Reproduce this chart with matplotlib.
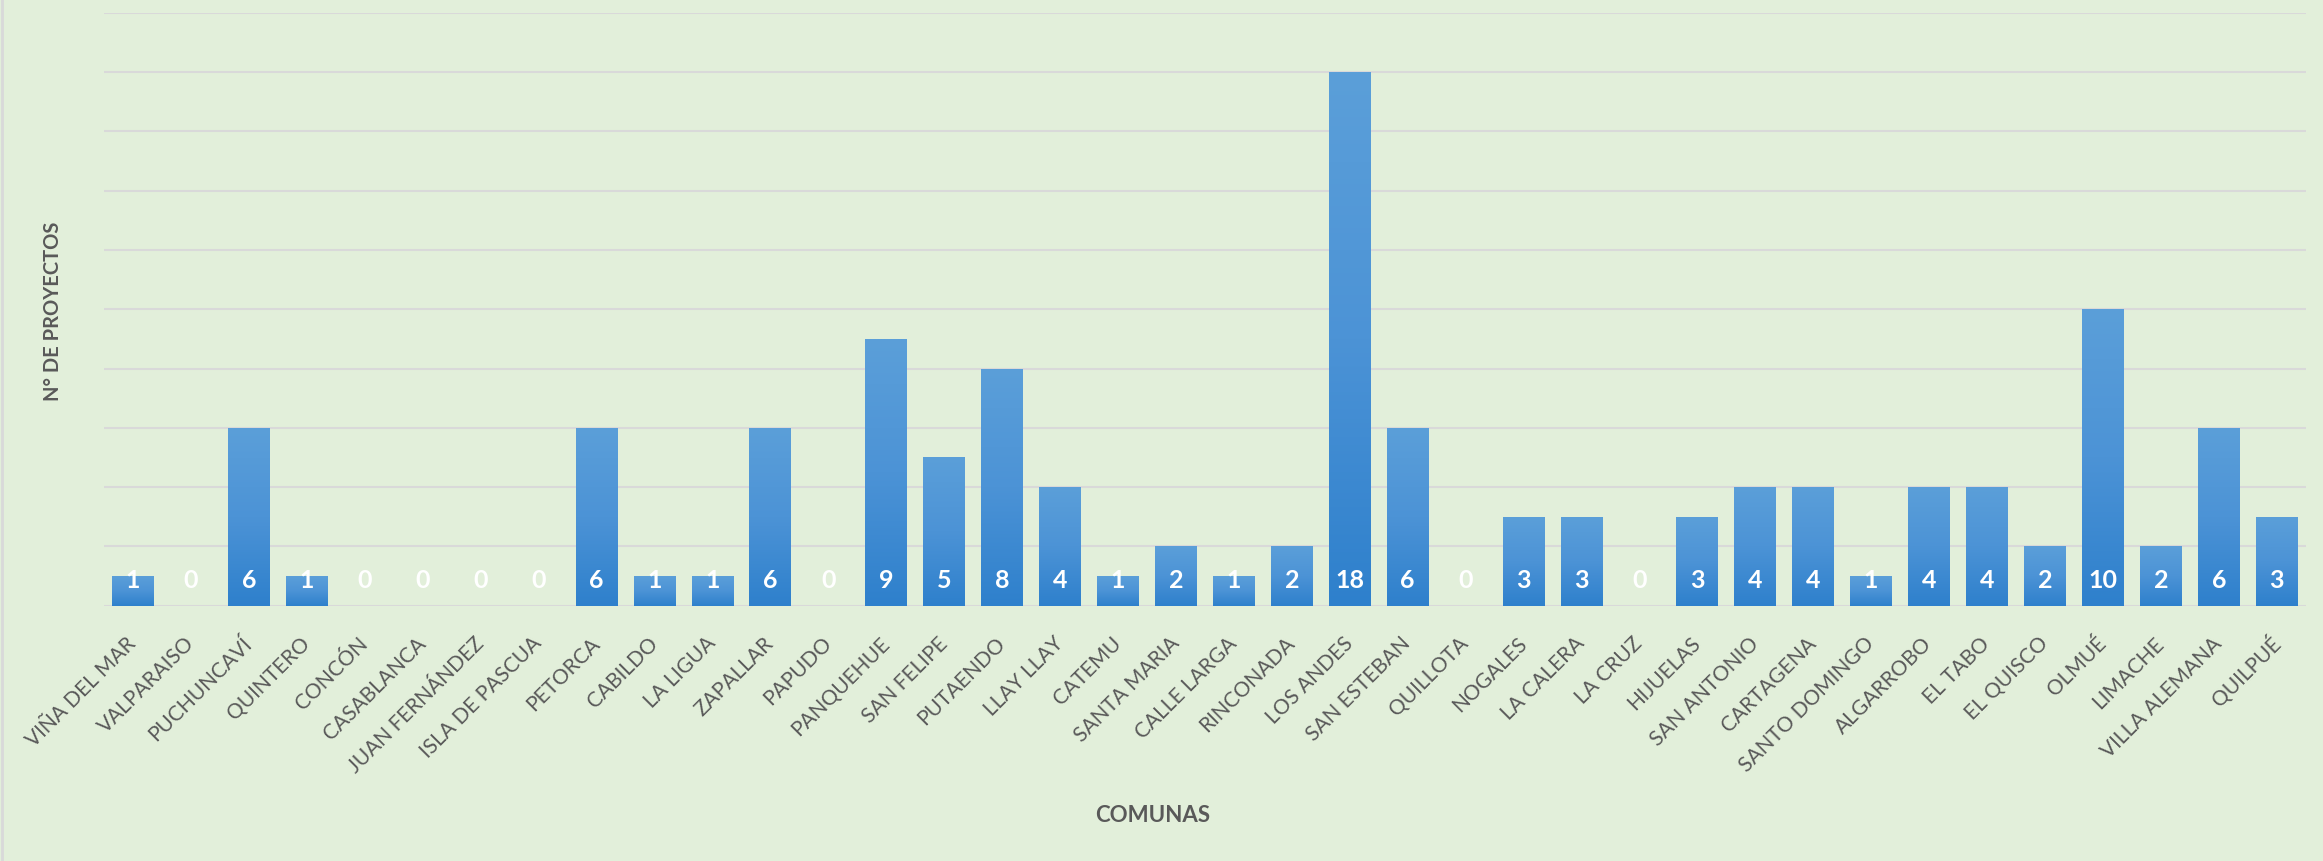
import matplotlib
matplotlib.use("Agg")
import matplotlib.pyplot as plt
import numpy as np
from matplotlib.colors import LinearSegmentedColormap

comunas = ["VIÑA DEL MAR", "VALPARAISO", "PUCHUNCAVÍ", "QUINTERO", "CONCÓN",
           "CASABLANCA", "JUAN FERNÁNDEZ", "ISLA DE PASCUA", "PETORCA", "CABILDO",
           "LA LIGUA", "ZAPALLAR", "PAPUDO", "PANQUEHUE", "SAN FELIPE", "PUTAENDO",
           "LLAY LLAY", "CATEMU", "SANTA MARIA", "CALLE LARGA", "RINCONADA",
           "LOS ANDES", "SAN ESTEBAN", "QUILLOTA", "NOGALES", "LA CALERA", "LA CRUZ",
           "HIJUELAS", "SAN ANTONIO", "CARTAGENA", "SANTO DOMINGO", "ALGARROBO",
           "EL TABO", "EL QUISCO", "OLMUÉ", "LIMACHE", "VILLA ALEMANA", "QUILPUÉ"]
proyectos = [1, 0, 6, 1, 0, 0, 0, 0, 6, 1, 1, 6, 0, 9, 5, 8, 4, 1, 2, 1, 2,
             18, 6, 0, 3, 3, 0, 3, 4, 4, 1, 4, 4, 2, 10, 2, 6, 3]

BG = "#E2EFDA"
GRID = "#D9D9D9"
TXT = "#595959"
W, H = 2323, 861

fig = plt.figure(figsize=(W / 100, H / 100), dpi=100, facecolor=BG)
ax = fig.add_axes([104 / W, (H - 605.7) / H, (2305.7 - 104) / W, (605.7 - 12.7) / H])
ax.set_facecolor(BG)

x = np.arange(len(comunas))
bars = ax.bar(x, proyectos, width=0.72, color="#4A90D4", zorder=3)

cmap = LinearSegmentedColormap.from_list("g", ["#2E80CC", "#4C93D6", "#5B9FD9"])
grad = np.linspace(0, 1, 256).reshape(-1, 1)
for b in bars:
    h = b.get_height()
    if h <= 0:
        continue
    im = ax.imshow(grad, cmap=cmap, origin="lower", aspect="auto",
                   extent=[b.get_x(), b.get_x() + b.get_width(), 0, h],
                   zorder=4, interpolation="bilinear")
    im.set_clip_path(b)

for xi, v in zip(x, proyectos):
    ax.annotate(str(v), xy=(xi, 0), xytext=(0, 18.5), textcoords="offset points",
                ha="center", va="center", color="white", fontsize=18,
                fontweight="bold", family="Lato", zorder=6)

ax.set_xlim(-0.5, len(comunas) - 0.5)
ax.set_ylim(0, 20)
ax.set_yticks(np.arange(0, 21, 2))
ax.set_yticklabels([])
ax.grid(axis="y", color=GRID, linewidth=1.5, zorder=0)
ax.tick_params(axis="both", length=0)
for s in ax.spines.values():
    s.set_visible(False)

ax.set_xticks(x)
ax.set_xticklabels(comunas, rotation=45, ha="right", va="center",
                   rotation_mode="anchor", fontsize=15, color=TXT, family="Lato")
ax.tick_params(axis="x", pad=25)

fig.text(1153 / W, 1 - 815 / H, "COMUNAS", ha="center", va="center",
         fontsize=16, fontweight="bold", color=TXT, family="Lato")
fig.text(53 / W, 1 - 311 / H, "N° DE PROYECTOS", ha="center", va="center",
         rotation=90, fontsize=14.5, fontweight="bold", color=TXT, family="Lato")

fig.add_artist(plt.Line2D([1.5 / W, 1.5 / W], [0, 1], color=GRID, linewidth=2,
                          transform=fig.transFigure))

fig.savefig("out.png", dpi=100, facecolor=BG)
